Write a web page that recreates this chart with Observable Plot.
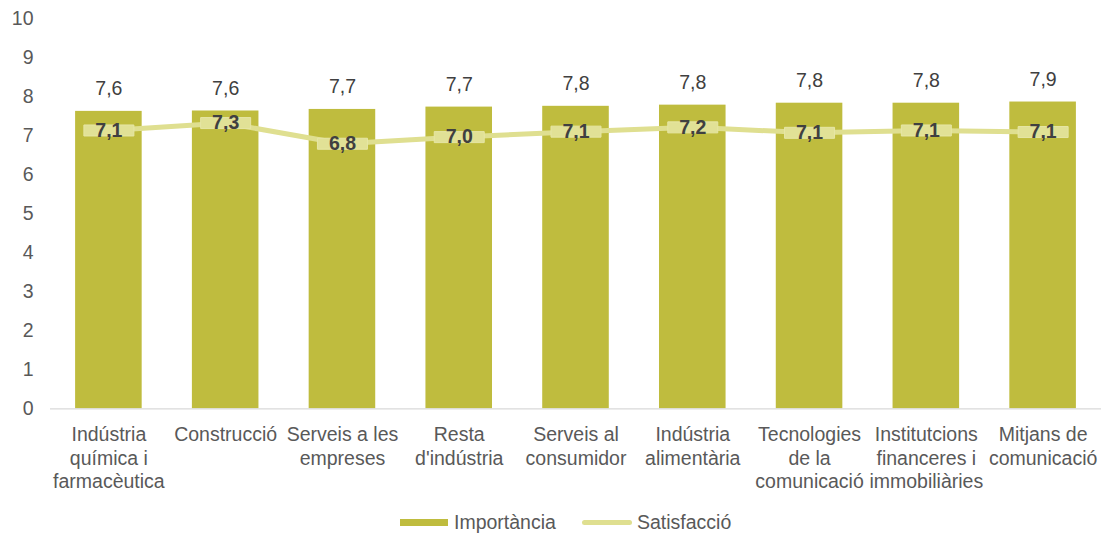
<!DOCTYPE html>
<html>
<head>
<meta charset="utf-8">
<script src="https://cdn.jsdelivr.net/npm/d3@7"></script>
<script src="https://cdn.jsdelivr.net/npm/@observablehq/plot@0.6"></script>
<style>
  html, body { margin: 0; padding: 0; background: #fff; }
  body { width: 1101px; height: 534px; overflow: hidden; font-family: "Liberation Sans", Arial, sans-serif; }
  #legend { position: relative; height: 34px; font-size: 19.5px; color: #595959; }
  #legend .sw1 { position: absolute; left: 400px; top: 19px; width: 48px; height: 7px; background: #bfbc3e; }
  #legend .t1 { position: absolute; left: 454px; top: 10px; line-height: 24px; }
  #legend .sw2 { position: absolute; left: 582px; top: 20px; width: 50px; height: 5px; border-radius: 3px; background: #dfdf90; }
  #legend .t2 { position: absolute; left: 637px; top: 10px; line-height: 24px; }
</style>
</head>
<body>
<div id="chart"></div>
<div id="legend">
  <div class="sw1"></div><div class="t1">Importància</div>
  <div class="sw2"></div><div class="t2">Satisfacció</div>
</div>
<script>
const categories = [
  "Indústria\nquímica i\nfarmacèutica",
  "Construcció",
  "Serveis a les\nempreses",
  "Resta\nd'indústria",
  "Serveis al\nconsumidor",
  "Indústria\nalimentària",
  "Tecnologies\nde la\ncomunicació",
  "Institutcions\nfinanceres i\nimmobiliàries",
  "Mitjans de\ncomunicació"
];
const importancia = [7.63, 7.64, 7.68, 7.74, 7.76, 7.79, 7.84, 7.84, 7.87];
const satisfaccio = [7.14, 7.33, 6.80, 6.97, 7.11, 7.22, 7.08, 7.14, 7.10];
const yTicks = [0, 1, 2, 3, 4, 5, 6, 7, 8, 9, 10];

const data = categories.map((c, i) => ({c, imp: importancia[i], sat: satisfaccio[i]}));
const fmt = v => v.toFixed(1).replace(".", ",");

const markerSymbol = {
  draw(context) { context.rect(-25, -5.5, 50, 11); }
};

const chart = Plot.plot({
  width: 1101,
  height: 500,
  marginLeft: 50,
  marginRight: 0,
  marginTop: 18.5,
  marginBottom: 91.7,
  style: {fontFamily: "'Liberation Sans', Arial, sans-serif", fontSize: "19.5px", color: "#595959", background: "#fff"},
  x: {domain: categories, paddingInner: 0.43, paddingOuter: 0.215, round: false, label: null},
  y: {domain: [0, 10], label: null},
  marks: [
    Plot.barY(data, {x: "c", y: "imp", fill: "#bfbc3e"}),
    Plot.ruleY([0], {stroke: "#d9d9d9", strokeWidth: 1.3}),
    Plot.lineY(data, {x: "c", y: "sat", stroke: "#dfdf90", strokeWidth: 5}),
    Plot.dot(data, {x: "c", y: "sat", symbol: markerSymbol, fill: "#e1e196", stroke: "#e6e6a6", strokeWidth: 1}),
    Plot.text(data, {x: "c", y: "imp", text: d => fmt(d.imp), dy: -22.5, fill: "#404040"}),
    Plot.text(data, {x: "c", y: "sat", text: d => fmt(d.sat), fontWeight: "bold", fill: "#404040"}),
    Plot.axisY({ticks: yTicks, tickSize: 0, tickPadding: 17, label: null, fill: "#595959"}),
    Plot.axisX({tickSize: 0, tickPadding: 16, label: null, lineHeight: 1.2, fill: "#595959"})
  ]
});
document.getElementById("chart").appendChild(chart);
</script>
</body>
</html>
